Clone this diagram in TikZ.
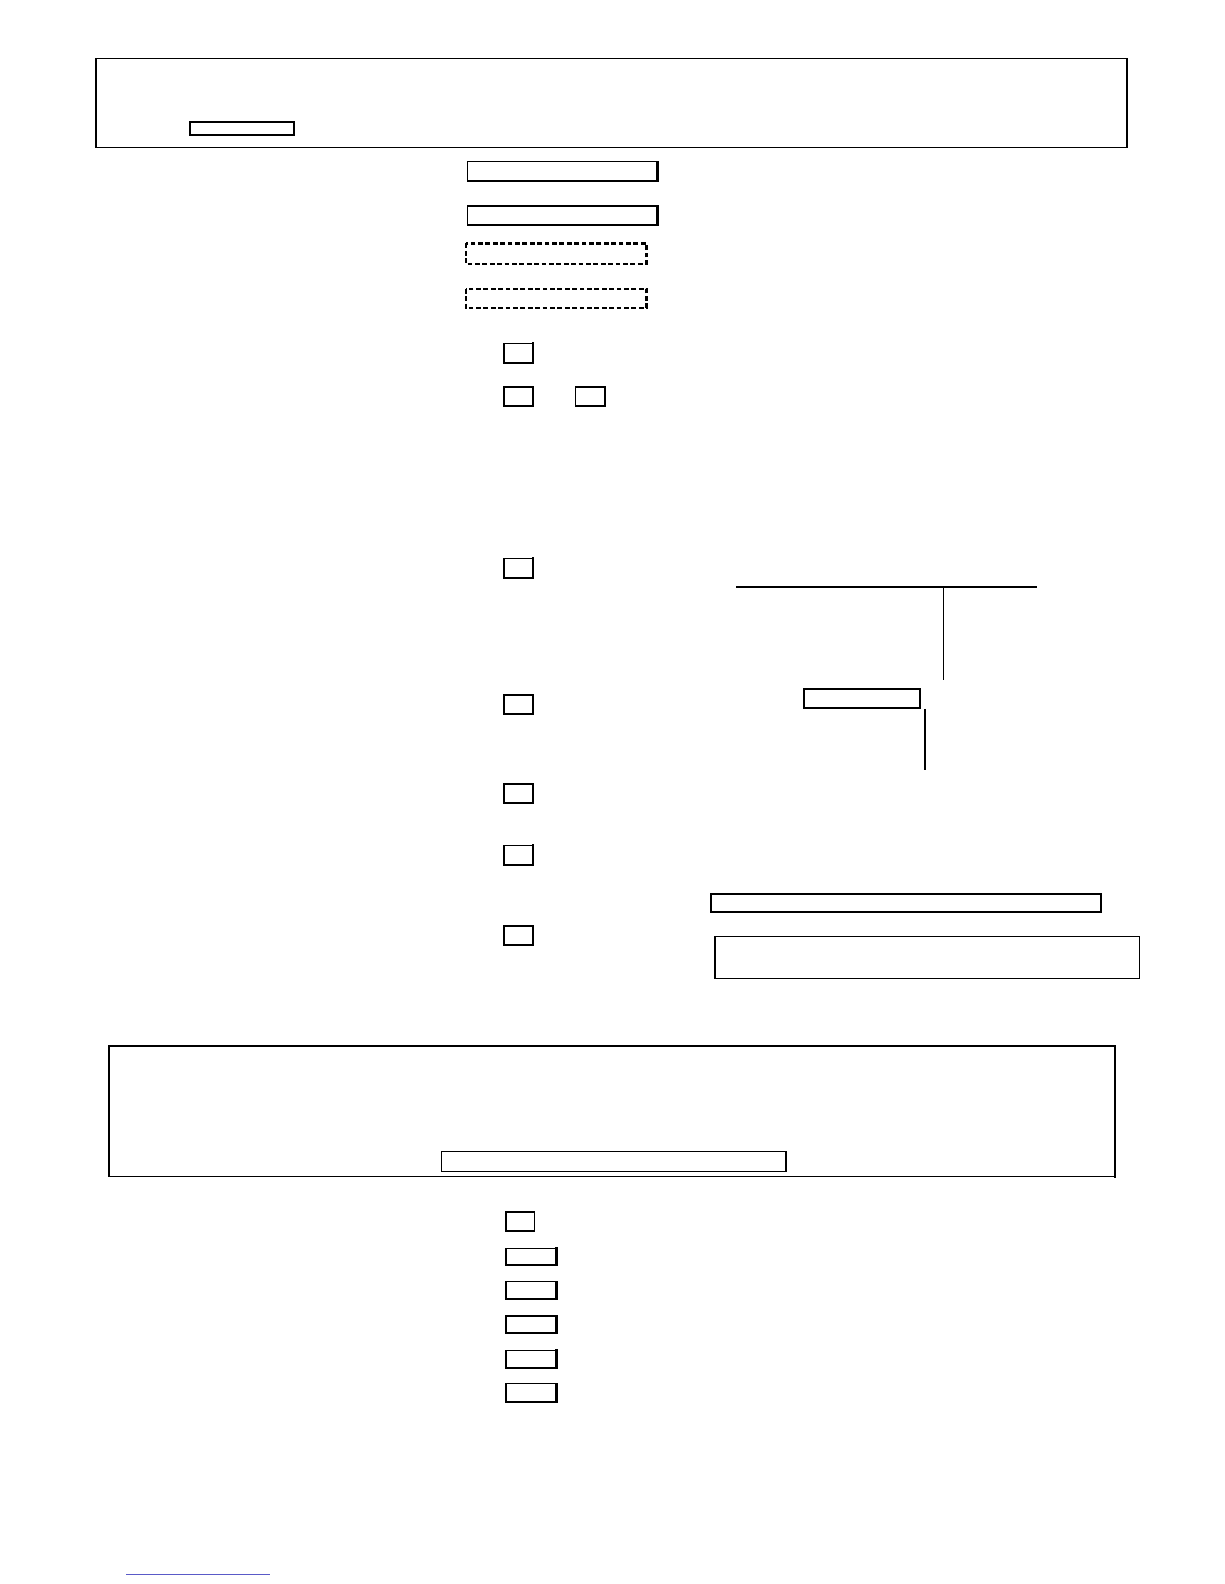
\documentclass[tikz,border=0pt]{standalone}
\usepackage{tikz}
\tikzset{
  frame/.style={draw=black, line width=0.75pt},
  heavy/.style={draw=black, line width=1.05pt, line cap=rect},
  dashbox/.style={draw=black, line width=1.1pt, dash pattern=on 2.4pt off 1.3pt},
  rule/.style={draw=black, line width=0.75pt},
  faint/.style={draw={rgb,255:red,90;green,90;blue,200}, line width=0.5pt}
}
\newcommand{\shadowbox}[4]{%
  \draw[frame] (#1,#2) rectangle (#3,#4);
  \draw[heavy] (#1,#4) -- (#3,#4) -- (#3,#2);}
\begin{document}
\begin{tikzpicture}[x=0.505pt,y=-0.505pt]
\useasboundingbox[fill=white] (0,0) rectangle (1212,1568.3);
% top frame
\draw[frame] (95,58) rectangle (1116,146);
\shadowbox{188}{121}{291}{134}
% fields
\shadowbox{463}{160}{651}{179}
\shadowbox{463}{204}{651}{223}
\draw[dashbox] (461,241) rectangle (640,261);
\draw[dashbox] (461,286) rectangle (640,305);
% check squares
\shadowbox{499}{340}{528}{359}
\shadowbox{499}{383}{528}{402}
\shadowbox{570}{383}{599}{402}
\shadowbox{499}{553}{528}{572}
\shadowbox{499}{688}{528}{707}
\shadowbox{499}{776}{528}{795}
\shadowbox{499}{837}{528}{856}
\shadowbox{499}{917}{528}{936}
% lines on the right
\coordinate (hl) at (729,581);
\coordinate (hr) at (1027,581);
\coordinate (vt) at (934,581);
\coordinate (vb) at (934,673);
\draw[rule] (hl) -- (hr);
\draw[rule] (vt) -- (vb);
\draw[frame] (796,682) rectangle (911,701);
\coordinate (v2t) at (916,702);
\coordinate (v2b) at (916,762);
\draw[rule] (v2t) -- (v2b);
\draw[frame] (704,885) rectangle (1090,903);
\draw[frame] (708,927) rectangle (1128,969);
% bottom frame
\draw[frame] (108,1036) rectangle (1104,1165);
\draw[heavy] (108,1036) -- (1104,1036) -- (1104,1165);
\draw[frame] (437,1140) rectangle (778,1160);
% lower squares
\draw[frame] (501,1200) rectangle (529,1219);
\shadowbox{501}{1236}{551}{1252}
\shadowbox{501}{1269}{551}{1286}
\shadowbox{501}{1303}{551}{1320}
\shadowbox{501}{1337}{551}{1354}
\shadowbox{501}{1370}{551}{1388}
% faint footnote rule
\coordinate (fl) at (125,1559);
\coordinate (fr) at (267,1559);
\draw[faint] (fl) -- (fr);
\end{tikzpicture}
\end{document}
